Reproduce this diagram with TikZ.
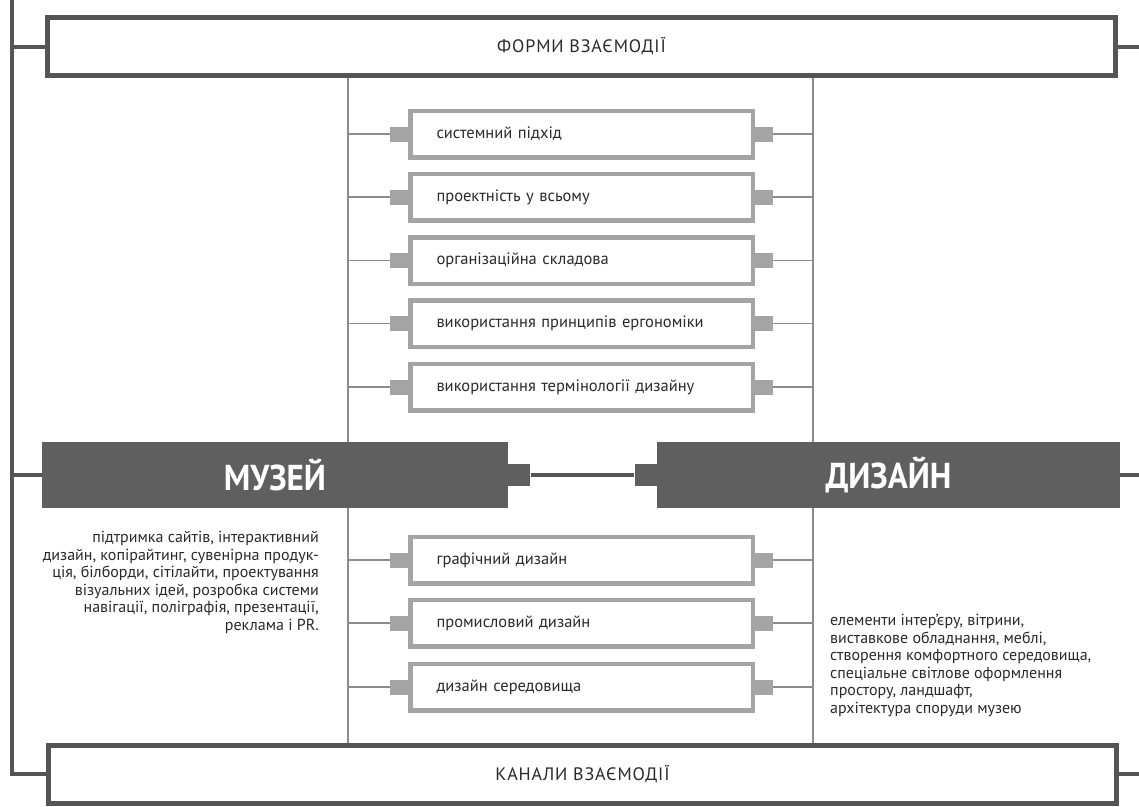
\documentclass[tikz,border=0pt]{standalone}
\usepackage{fontspec}
\setmainfont{PT Sans}
\newfontfamily\narrow[FakeStretch=0.92]{PT Sans}
\newfontfamily\spaced[LetterSpace=5]{PT Sans}
\usetikzlibrary{positioning,backgrounds}

\definecolor{rim}{HTML}{555555}
\definecolor{slabgray}{HTML}{5F5F5F}
\definecolor{pale}{HTML}{A4A4A4}
\definecolor{thin}{HTML}{8C8C8C}
\definecolor{ink}{HTML}{2A2A2A}

\tikzset{
  frame/.style={draw=rim, line width=5pt, fill=white, minimum width=1068pt,
    minimum height=58pt, inner sep=0pt, text=ink,
    font=\spaced\fontsize{18}{20}\selectfont},
  slab/.style={fill=slabgray, minimum height=66pt, inner sep=0pt, text=white,
    font=\narrow\bfseries\fontsize{36}{40}\selectfont},
  item/.style={draw=pale, line width=4.5pt, fill=white, minimum height=46.5pt,
    text width=290pt, inner xsep=26.25pt, inner ysep=0pt, align=left, text=ink,
    font=\fontsize{16.5}{18}\selectfont},
  tab/.style={fill=pale, minimum width=18pt, minimum height=15pt, inner sep=0pt},
  slabtab/.style={fill=slabgray, minimum size=22pt, inner sep=0pt},
  wire/.style={draw=thin, line width=1.8pt},
  rail/.style={draw=rim, line width=4pt},
  note/.style={inner sep=0pt, text=ink, font=\fontsize{16}{17.6}\selectfont},
}

\begin{document}
\begin{tikzpicture}[x=1pt, y=-1pt]
  \useasboundingbox (0,0) rectangle (1139,806);

  \coordinate (lrail) at (12,0);
  \coordinate (rrail) at (1146,0);
  \coordinate (lcol) at (348,0);
  \coordinate (rcol) at (813,0);

  % forms and channels
  \node[frame] (forms) at (581.5,46.5) {ФОРМИ ВЗАЄМОДІЇ};
  \node[frame] (channels) at (582.5,774) {КАНАЛИ ВЗАЄМОДІЇ};

  % museum and design
  \node[slab, minimum width=466pt] (museum) at (275,475) {МУЗЕЙ};
  \node[slab, minimum width=463pt] (design) at (888.5,475) {ДИЗАЙН};
  \node[slabtab, anchor=west] (mtab) at (museum.east) {};
  \node[slabtab, anchor=east] (dtab) at (design.west) {};

  % shared ground
  \node[item] (sys) at (581.5,134) {системний підхід};
  \node[item] (proj) at (581.5,197) {проектність у всьому};
  \node[item] (org) at (581.5,260.5) {організаційна складова};
  \node[item] (ergo) at (581.5,323.5) {використання принципів ергономіки};
  \node[item] (term) at (581.5,387) {використання термінології дизайну};

  % kinds of design
  \node[item] (graph) at (581.5,560) {графічний дизайн};
  \node[item] (indus) at (581.5,623) {промисловий дизайн};
  \node[item] (env) at (581.5,687) {дизайн середовища};

  \node[tab, anchor=east] (sysw) at (sys.west) {};
  \node[tab, anchor=west] (syse) at (sys.east) {};
  \node[tab, anchor=east] (projw) at (proj.west) {};
  \node[tab, anchor=west] (proje) at (proj.east) {};
  \node[tab, anchor=east] (orgw) at (org.west) {};
  \node[tab, anchor=west] (orge) at (org.east) {};
  \node[tab, anchor=east] (ergow) at (ergo.west) {};
  \node[tab, anchor=west] (ergoe) at (ergo.east) {};
  \node[tab, anchor=east] (termw) at (term.west) {};
  \node[tab, anchor=west] (terme) at (term.east) {};
  \node[tab, anchor=east] (graphw) at (graph.west) {};
  \node[tab, anchor=west] (graphe) at (graph.east) {};
  \node[tab, anchor=east] (indusw) at (indus.west) {};
  \node[tab, anchor=west] (induse) at (indus.east) {};
  \node[tab, anchor=east] (envw) at (env.west) {};
  \node[tab, anchor=west] (enve) at (env.east) {};

  \node[note, align=right, anchor=north east] (museumnote) at (319,531)
    {підтримка сайтів, інтерактивний\\дизайн, копірайтинг, сувенірна продук-\\ція, білборди, сітілайти, проектування\\візуальних ідей, розробка системи\\навігації, поліграфія, презентації,\\реклама і PR.};
  \node[note, align=left, anchor=north west] (designnote) at (830,614)
    {елементи інтер’єру, вітрини,\\виставкове обладнання, меблі,\\створення комфортного середовища,\\спеціальне світлове оформлення\\простору, ландшафт,\\архітектура споруди музею};

  \begin{scope}[on background layer]
    \fill[white] (0,0) rectangle (1139,806);
    \draw[wire]
      (forms.south -| lcol) -- (channels.north -| lcol)
      (forms.south -| rcol) -- (channels.north -| rcol)
    ;
  \end{scope}

  \draw[rail]
    (forms.west) -| (lrail) |- (channels.west)
    (museum.west) -- (museum.west -| lrail)
    (forms.east) -| (rrail) |- (channels.east)
    (design.east) -- (design.east -| rrail)
  ;
  \draw[rail, line width=3.5pt] (mtab) -- (dtab);

  \draw[wire]
    (sysw.west) -- (sysw.west -| lcol) (syse.east) -- (syse.east -| rcol)
    (projw.west) -- (projw.west -| lcol) (proje.east) -- (proje.east -| rcol)
    (orgw.west) -- (orgw.west -| lcol) (orge.east) -- (orge.east -| rcol)
    (ergow.west) -- (ergow.west -| lcol) (ergoe.east) -- (ergoe.east -| rcol)
    (termw.west) -- (termw.west -| lcol) (terme.east) -- (terme.east -| rcol)
    (graphw.west) -- (graphw.west -| lcol) (graphe.east) -- (graphe.east -| rcol)
    (indusw.west) -- (indusw.west -| lcol) (induse.east) -- (induse.east -| rcol)
    (envw.west) -- (envw.west -| lcol) (enve.east) -- (enve.east -| rcol)
  ;
\end{tikzpicture}
\end{document}
